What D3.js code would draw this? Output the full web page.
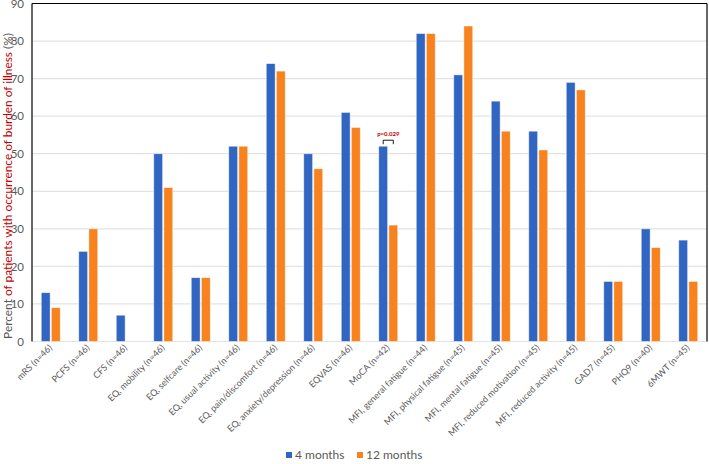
<!DOCTYPE html>
<html>
<head>
<meta charset="utf-8">
<script src="https://cdn.jsdelivr.net/npm/d3@7"></script>
<style>
  html, body { margin: 0; padding: 0; background: #fff; }
  svg { display: block; }
  text { font-family: "Lato", "Open Sans", sans-serif; }
</style>
</head>
<body>
<svg id="chart" width="709" height="464"></svg>
<script>
const categories = [
  "mRS (n=46)", "PCFS (n=46)", "CFS (n=46)", "EQ, mobility (n=46)", "EQ, selfcare (n=46)",
  "EQ, usual activity (n=46)", "EQ, pain/discomfort (n=46)", "EQ, anxiety/depression (n=46)",
  "EQVAS (n=46)", "MoCA (n=42)", "MFI, general fatigue (n=44)", "MFI, physical fatigue (n=45)",
  "MFI, mental fatigue (n=45)", "MFI, reduced motivation (n=45)", "MFI, reduced activity (n=45)",
  "GAD7 (n=45)", "PHQ9 (n=40)", "6MWT (n=45)"
];
const seriesNames = ["4 months", "12 months"];
const months4  = [13, 24, 7, 50, 17, 52, 74, 50, 61, 52, 82, 71, 64, 56, 69, 16, 30, 27];
const months12 = [9, 30, 0, 41, 17, 52, 72, 46, 57, 31, 82, 84, 56, 51, 67, 16, 25, 16];
const yTicks = [0, 10, 20, 30, 40, 50, 60, 70, 80, 90];
const annotation = { category: "MoCA (n=42)", text: "p=0.029" };

const colors = ["#3066C2", "#F7821E"];

const svg = d3.select("#chart");
const pL = 32, pR = 707, pT = 3.5, pB = 341.5;

const x0 = d3.scaleBand().domain(categories).range([pL, pR]).paddingInner(0).paddingOuter(0);
const x1 = d3.scaleBand().domain(seriesNames).range([0, 19]).paddingInner(0.12);
const y = d3.scaleLinear().domain([0, 90]).range([pB, pT]);

// gridlines
svg.append("g").selectAll("line").data(yTicks).join("line")
  .attr("x1", pL).attr("x2", pR)
  .attr("y1", d => y(d)).attr("y2", d => y(d))
  .attr("stroke", "#e3e3e3").attr("stroke-width", 1.2);

// y axis tick labels
const yAxis = d3.axisLeft(y).tickValues(yTicks).tickSize(0).tickPadding(8);
const gy = svg.append("g").attr("transform", `translate(${pL},0)`).call(yAxis);
gy.select(".domain").remove();
gy.selectAll("text").attr("fill", "#595959").style("font-size", "11.5px")
  .style("font-family", "Lato, 'Open Sans', sans-serif");

// bars
const rows = categories.map((c, i) => ({ c, vals: [months4[i], months12[i]] }));
const groups = svg.append("g").selectAll("g").data(rows).join("g")
  .attr("transform", d => `translate(${x0(d.c) + x0.bandwidth() / 2 - 9.5},0)`);
groups.selectAll("rect").data(d => d.vals.map((v, k) => ({ s: seriesNames[k], v, k })).filter(e => e.v > 0))
  .join("rect")
  .attr("x", e => x1(e.s))
  .attr("width", x1.bandwidth())
  .attr("y", e => y(e.v))
  .attr("height", e => y(0) - y(e.v))
  .attr("fill", e => colors[e.k])
  .attr("stroke", "#ffffff").attr("stroke-opacity", 0.6).attr("stroke-width", 0.8);

// x axis labels
const xAxis = d3.axisBottom(x0).tickSize(0).tickPadding(0);
const gx = svg.append("g").attr("transform", `translate(0,${pB})`).call(xAxis);
gx.select(".domain").remove();
gx.selectAll("text")
  .attr("fill", "#595959").style("font-size", "9px")
  .style("font-family", "Lato, 'Open Sans', sans-serif")
  .attr("text-anchor", "end")
  .attr("dy", "0.3em")
  .attr("transform", "translate(0,5) rotate(-45)")
  .attr("y", 0);

// frame
svg.append("line").attr("x1", pL).attr("x2", pL).attr("y1", pT).attr("y2", pB).attr("stroke", "#000").attr("stroke-width", 1.2);
svg.append("line").attr("x1", pL).attr("x2", pR).attr("y1", pT).attr("y2", pT).attr("stroke", "#000").attr("stroke-width", 1.2);
svg.append("line").attr("x1", pR).attr("x2", pR).attr("y1", pT).attr("y2", pB).attr("stroke", "#000").attr("stroke-width", 1.2);

// p-value annotation
const ai = categories.indexOf(annotation.category);
const gx0 = x0(annotation.category) + x0.bandwidth() / 2 - 9.5;
const bx1 = gx0 + x1("4 months") + x1.bandwidth() / 2;
const bx2 = gx0 + x1("12 months") + x1.bandwidth() / 2;
const by = y(months4[ai]) - 6;
svg.append("path")
  .attr("d", `M${bx1},${by + 4}V${by}H${bx2}V${by + 4}`)
  .attr("fill", "none").attr("stroke", "#000").attr("stroke-width", 0.9);
svg.append("text").attr("x", (bx1 + bx2) / 2).attr("y", by - 4)
  .attr("text-anchor", "middle").attr("fill", "#C00000")
  .style("font-size", "6px").style("font-weight", "bold").text(annotation.text);

// y axis title
let fs = 12;
const yt = svg.append("text")
  .attr("transform", `translate(12,186) rotate(-90)`)
  .attr("text-anchor", "middle")
  .style("font-size", fs + "px");
yt.append("tspan").attr("fill", "#595959").text("Percent ");
yt.append("tspan").attr("fill", "#C00000").text("of patients with occurrence of burden of illness");
yt.append("tspan").attr("fill", "#595959").text(" (%)");
const len = yt.node().getComputedTextLength();
if (len > 0) { fs = fs * 306 / len; yt.style("font-size", fs + "px"); }

// legend
const legend = svg.append("g").attr("transform", "translate(286,459)");
const lx = [0, 71];
seriesNames.forEach((s, k) => {
  const g = legend.append("g").attr("transform", `translate(${lx[k]},0)`);
  g.append("rect").attr("x", 0).attr("y", -7).attr("width", 6).attr("height", 6).attr("fill", colors[k]);
  g.append("text").attr("x", 9).attr("y", 0).attr("fill", "#595959").style("font-size", "12px").text(s);
});
</script>
</body>
</html>
